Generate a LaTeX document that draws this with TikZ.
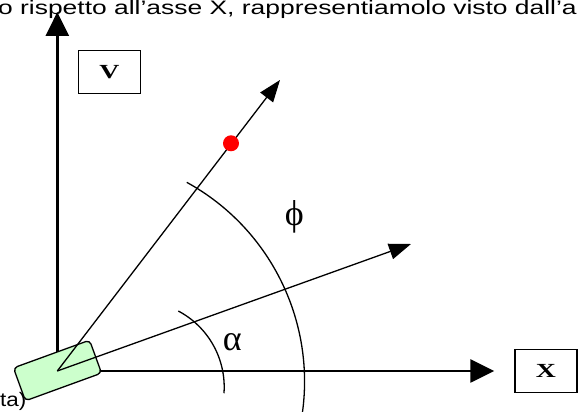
\documentclass[tikz,border=0pt]{standalone}
\usepackage{graphicx}
\usepackage{fontspec}
\setmainfont{Liberation Serif}
\newfontfamily\arialfont{Liberation Sans}
\usepackage{xcolor}
\definecolor{verdino}{HTML}{CCFFCC}
\usetikzlibrary{arrows.meta,positioning}

\begin{document}
\begin{tikzpicture}[x=1pt,y=1pt,
  axis/.style={line width=2.6pt,-{Triangle[length=24pt,width=23pt]}},
  ray/.style={line width=1.3pt,-{Triangle[length=22pt,width=16pt]}},
  arco/.style={line width=1.3pt},
  lbl/.style={draw,line width=1.3pt,minimum width=62pt,minimum height=43pt,inner sep=0pt,
    font=\bfseries\fontsize{20}{20}\selectfont},
  greek/.style={inner sep=0pt,font=\fontsize{36}{36}\selectfont},
  testo/.style={inner sep=0pt,font=\arialfont\fontsize{19.5}{20}\selectfont},
]
  \useasboundingbox (0,0) rectangle (579,412);
  \clip (0,0) rectangle (579,412);

  % cut text of the page
  \node[testo,anchor=base east] (riga) at (577,397) {\scalebox{1.355}[1]{o rispetto all’asse X, rappresentiamolo visto dall’a}};
  \node[testo,anchor=base west] (nota) at (0,5) {\scalebox{1.15}[1]{ta)}};

  % axes
  \coordinate (O) at (57.3,41);
  \coordinate (tipY) at (57.3,400);
  \coordinate (tipX) at (494.3,41);
  \draw[axis] (O) -- (tipY);
  \draw[axis] (O) -- (tipX);
  \node[lbl] (asseY) at (109.5,340) {\scalebox{1.39}[1]{V}};
  \node[lbl] (asseX) at (546,40.7) {\scalebox{1.39}[1]{X}};

  % vehicle
  \node[draw,line width=1.3pt,fill=verdino,rounded corners=4pt,rotate=20,
    minimum width=81pt,minimum height=35pt] (ruota) at (57.5,41.5) {};

  % rays
  \coordinate (tipPhi) at (280,332);
  \coordinate (tipAlpha) at (411,168);
  \draw[ray] (O) -- (tipPhi);
  \draw[ray] (O) -- (tipAlpha);
  \node[circle,fill=red,minimum size=16pt,inner sep=0pt] (punto) at (231,268.7) {};

  % angles
  \coordinate (cPhi) at (77.25,30.5);
  \coordinate (cAlpha) at (138.2,24.9);
  \draw[arco] (cPhi) ++(61.2:227.3) arc[start angle=61.2,end angle=-10,radius=227.3];
  \draw[arco] (cAlpha) ++(62.2:86) arc[start angle=62.2,end angle=-4.1,radius=86];
  \node[greek] (phi) at (294.3,194.7) {ϕ};
  \node[greek] (alpha) at (232.2,69.8) {α};
\end{tikzpicture}
\end{document}
